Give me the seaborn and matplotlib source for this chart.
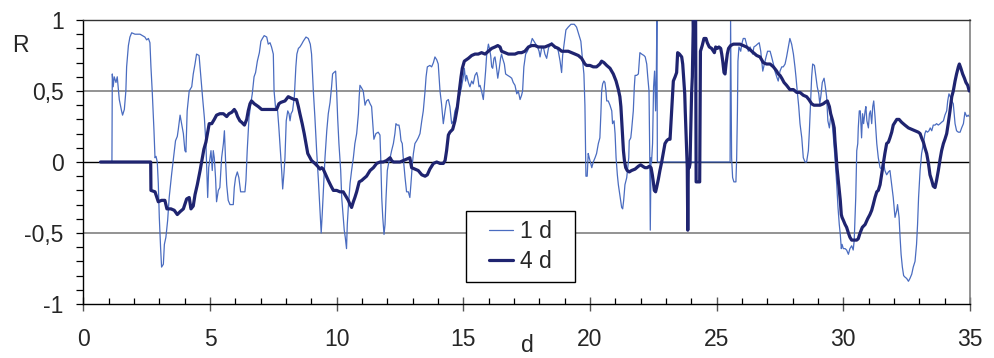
import numpy as np
import matplotlib
matplotlib.use("Agg")
import matplotlib.pyplot as plt
from matplotlib.ticker import MultipleLocator, FixedLocator, FixedFormatter
from matplotlib.legend_handler import HandlerLine2D
from matplotlib.lines import Line2D
import seaborn as sns

sns.set_style("white")
plt.rcParams["font.family"] = ["Liberation Sans", "DejaVu Sans"]

# Correlation coefficient R versus distance d, 1-day window
d1_x = [0.68, 1.13, 1.145, 1.18, 1.22, 1.29, 1.34, 1.42, 1.51, 1.55, 1.62, 1.68, 1.71, 1.78, 1.84, 1.91,
        2.04, 2.24, 2.43, 2.50, 2.57, 2.63, 2.67, 2.72, 2.79, 2.83, 2.87, 2.92, 2.96, 3.00, 3.05, 3.09,
        3.16, 3.20, 3.26, 3.33, 3.39, 3.49, 3.58, 3.64, 3.71, 3.75, 3.82, 3.88, 3.95, 4.01, 4.05, 4.10,
        4.18, 4.28, 4.34, 4.41, 4.47, 4.57, 4.63, 4.71, 4.78, 4.84, 4.91, 4.95, 5.04, 5.09, 5.13, 5.17,
        5.22, 5.26, 5.33, 5.39, 5.46, 5.53, 5.57, 5.62, 5.66, 5.72, 5.79, 5.92, 5.96, 6.01, 6.08, 6.14,
        6.21, 6.29, 6.38, 6.42, 6.47, 6.54, 6.61, 6.67, 6.74, 6.80, 6.87, 6.95, 7.01, 7.07, 7.14, 7.24,
        7.30, 7.37, 7.43, 7.50, 7.53, 7.59, 7.67, 7.72, 7.78, 7.83, 7.87, 7.92, 7.96, 8.01, 8.07, 8.12,
        8.16, 8.20, 8.26, 8.33, 8.39, 8.43, 8.49, 8.55, 8.62, 8.68, 8.79, 8.88, 8.96, 9.01, 9.08, 9.14,
        9.21, 9.28, 9.34, 9.39, 9.43, 9.49, 9.54, 9.61, 9.67, 9.74, 9.80, 9.84, 9.89, 9.96, 10.00, 10.04,
        10.09, 10.16, 10.20, 10.26, 10.30, 10.34, 10.39, 10.42, 10.46, 10.53, 10.59, 10.66, 10.72, 10.79,
        10.86, 10.89, 10.92, 10.99, 11.05, 11.12, 11.18, 11.25, 11.32, 11.38, 11.42, 11.47, 11.55, 11.64,
        11.71, 11.74, 11.78, 11.82, 11.87, 11.91, 11.95, 12.00, 12.05, 12.11, 12.17, 12.24, 12.30, 12.34,
        12.39, 12.46, 12.50, 12.54, 12.59, 12.63, 12.70, 12.76, 12.83, 12.89, 12.93, 12.99, 13.03, 13.09,
        13.16, 13.22, 13.29, 13.36, 13.42, 13.49, 13.53, 13.58, 13.68, 13.75, 13.82, 13.88, 13.95, 14.01,
        14.08, 14.14, 14.21, 14.28, 14.34, 14.41, 14.47, 14.54, 14.61, 14.67, 14.74, 14.80, 14.87, 14.93,
        15.00, 15.04, 15.09, 15.13, 15.20, 15.26, 15.33, 15.39, 15.46, 15.53, 15.57, 15.62, 15.66, 15.72,
        15.79, 15.83, 15.88, 15.92, 15.99, 16.03, 16.08, 16.12, 16.16, 16.21, 16.25, 16.30, 16.36, 16.42,
        16.47, 16.51, 16.55, 16.62, 16.67, 16.75, 16.84, 16.91, 16.97, 17.04, 17.11, 17.17, 17.24, 17.30,
        17.34, 17.39, 17.46, 17.53, 17.59, 17.66, 17.72, 17.79, 17.86, 17.93, 17.99, 18.03, 18.09, 18.16,
        18.22, 18.29, 18.36, 18.42, 18.49, 18.55, 18.62, 18.68, 18.75, 18.82, 18.88, 18.92, 18.99, 19.05,
        19.14, 19.25, 19.38, 19.47, 19.57, 19.64, 19.71, 19.76, 19.80, 19.84, 19.89, 19.93, 19.97, 20.03,
        20.07, 20.13, 20.20, 20.26, 20.33, 20.39, 20.43, 20.46, 20.50, 20.55, 20.59, 20.63, 20.66, 20.72,
        20.79, 20.86, 20.89, 20.95, 20.99, 21.03, 21.08, 21.12, 21.16, 21.21, 21.25, 21.29, 21.33, 21.38,
        21.45, 21.49, 21.53, 21.55, 21.61, 21.64, 21.71, 21.75, 21.78, 21.84, 21.91, 21.97, 22.04, 22.13,
        22.18, 22.24, 22.28, 22.33, 22.36, 22.38, 22.41, 22.43, 22.47, 22.51, 22.55, 22.59, 22.62, 22.64,
        22.66, 25.53, 25.55, 25.59, 25.63, 25.68, 25.76, 25.79, 25.82, 25.84, 25.88, 25.95, 25.99, 26.05,
        26.12, 26.18, 26.25, 26.32, 26.38, 26.42, 26.47, 26.55, 26.61, 26.68, 26.74, 26.78, 26.82, 26.87,
        26.95, 27.01, 27.11, 27.17, 27.24, 27.30, 27.37, 27.43, 27.50, 27.57, 27.63, 27.70, 27.76, 27.83,
        27.89, 27.96, 28.03, 28.09, 28.13, 28.18, 28.24, 28.29, 28.36, 28.42, 28.49, 28.55, 28.62, 28.66,
        28.71, 28.75, 28.79, 28.86, 28.92, 28.97, 29.03, 29.07, 29.11, 29.17, 29.24, 29.29, 29.34, 29.39,
        29.45, 29.50, 29.55, 29.61, 29.67, 29.74, 29.79, 29.84, 29.88, 29.92, 29.95, 30.00, 30.07, 30.13,
        30.20, 30.26, 30.33, 30.39, 30.43, 30.49, 30.53, 30.57, 30.59, 30.63, 30.67, 30.72, 30.76, 30.80,
        30.86, 30.89, 30.93, 30.99, 31.03, 31.07, 31.12, 31.16, 31.20, 31.25, 31.32, 31.38, 31.45, 31.51,
        31.58, 31.64, 31.71, 31.78, 31.84, 31.91, 31.97, 32.04, 32.11, 32.14, 32.20, 32.24, 32.28, 32.33,
        32.38, 32.43, 32.50, 32.57, 32.63, 32.70, 32.76, 32.83, 32.89, 32.93, 32.97, 33.03, 33.09, 33.16,
        33.22, 33.26, 33.32, 33.38, 33.43, 33.49, 33.55, 33.62, 33.68, 33.75, 33.82, 33.88, 33.95, 34.01,
        34.08, 34.12, 34.17, 34.22, 34.28, 34.34, 34.41, 34.47, 34.54, 34.61, 34.67, 34.74, 34.80, 34.87,
        34.93, 34.97]
d1_r = [0.00, 0.00, 0.62, 0.53, 0.60, 0.56, 0.60, 0.44, 0.36, 0.33, 0.37, 0.50, 0.67, 0.82, 0.88, 0.91,
        0.90, 0.90, 0.88, 0.86, 0.87, 0.84, 0.67, 0.50, 0.22, 0.03, 0.04, 0.00, -0.15, -0.39, -0.60, -0.74,
        -0.72, -0.58, -0.53, -0.41, -0.25, -0.08, 0.06, 0.15, 0.18, 0.23, 0.33, 0.27, 0.20, 0.08, 0.07, 0.36,
        0.50, 0.53, 0.62, 0.69, 0.76, 0.75, 0.62, 0.45, 0.31, 0.13, -0.25, -0.04, 0.08, -0.06, 0.08, 0.03,
        -0.11, -0.28, -0.20, -0.18, 0.03, 0.13, 0.22, -0.01, -0.16, -0.27, -0.30, -0.30, -0.18, -0.11, -0.07, -0.11,
        -0.21, -0.21, -0.21, -0.13, 0.08, 0.31, 0.41, 0.48, 0.60, 0.63, 0.71, 0.77, 0.85, 0.87, 0.89, 0.88,
        0.83, 0.84, 0.81, 0.76, 0.50, 0.38, 0.36, 0.24, 0.08, -0.06, -0.19, -0.08, 0.03, 0.29, 0.36, 0.34,
        0.29, 0.34, 0.36, 0.46, 0.67, 0.76, 0.80, 0.81, 0.83, 0.85, 0.88, 0.87, 0.83, 0.76, 0.50, 0.32,
        0.08, -0.13, -0.34, -0.50, -0.37, -0.15, 0.03, 0.22, 0.34, 0.42, 0.53, 0.62, 0.63, 0.64, 0.50, 0.31,
        0.13, -0.06, -0.25, -0.39, -0.48, -0.53, -0.61, -0.44, -0.32, -0.15, -0.06, 0.03, 0.13, 0.20,
        0.34, 0.46, 0.54, 0.52, 0.50, 0.40, 0.43, 0.44, 0.41, 0.39, 0.29, 0.16, 0.20, 0.21,
        0.19, 0.03, -0.25, -0.39, -0.51, -0.44, -0.25, -0.06, -0.01, 0.03, 0.08, 0.13, 0.20, 0.27,
        0.26, 0.26, 0.22, 0.15, 0.13, 0.03, -0.11, -0.21, -0.21, -0.25, -0.16, -0.01, 0.06, 0.13,
        0.15, 0.17, 0.20, 0.29, 0.36, 0.50, 0.60, 0.67, 0.68, 0.67, 0.70, 0.74, 0.72, 0.69,
        0.50, 0.41, 0.27, 0.36, 0.43, 0.44, 0.39, 0.27, 0.29, 0.36, 0.39, 0.43, 0.48, 0.53,
        0.60, 0.66, 0.57, 0.61, 0.56, 0.53, 0.57, 0.55, 0.61, 0.63, 0.60, 0.53, 0.54, 0.50,
        0.44, 0.53, 0.64, 0.75, 0.83, 0.80, 0.75, 0.67, 0.66, 0.73, 0.74, 0.68, 0.59, 0.66,
        0.73, 0.76, 0.73, 0.69, 0.62, 0.61, 0.60, 0.59, 0.56, 0.54, 0.48, 0.50, 0.44, 0.47,
        0.50, 0.67, 0.76, 0.78, 0.81, 0.83, 0.87, 0.85, 0.83, 0.81, 0.78, 0.74, 0.80, 0.81,
        0.76, 0.73, 0.80, 0.83, 0.84, 0.82, 0.80, 0.81, 0.78, 0.71, 0.63, 0.75, 0.85, 0.93,
        0.95, 0.97, 0.97, 0.95, 0.89, 0.85, 0.71, 0.62, 0.40, -0.10, -0.10, 0.06, 0.03, -0.01,
        -0.04, 0.00, 0.03, 0.06, 0.13, 0.17, 0.34, 0.50, 0.55, 0.57, 0.56, 0.50, 0.43, 0.43,
        0.40, 0.36, 0.27, 0.29, 0.20, 0.03, -0.09, -0.16, -0.21, -0.27, -0.32, -0.33, -0.27, -0.16,
        -0.11, -0.04, 0.03, 0.15, 0.17, 0.22, 0.36, 0.53, 0.61, 0.61, 0.62, 0.77, 0.76, 0.75,
        0.74, 0.69, 0.60, 0.50, 0.03, -0.48, 0.03, 0.00, 0.13, 0.53, 0.64, 0.36, 0.64, 1.00,
        0.00, 0.00, 1.00, 0.03, -0.11, -0.14, -0.14, 0.03, 0.36, 0.71, 0.81, 0.78, 0.83, 0.87,
        0.87, 0.83, 0.78, 0.81, 0.78, 0.76, 0.81, 0.82, 0.83, 0.84, 0.78, 0.71, 0.64, 0.68,
        0.74, 0.78, 0.78, 0.74, 0.69, 0.64, 0.60, 0.57, 0.64, 0.67, 0.67, 0.69, 0.74, 0.81,
        0.87, 0.83, 0.76, 0.67, 0.60, 0.50, 0.39, 0.27, 0.17, 0.03, 0.00, 0.00, 0.08, 0.22,
        0.43, 0.60, 0.69, 0.68, 0.60, 0.53, 0.48, 0.41, 0.46, 0.56, 0.59, 0.53, 0.46, 0.29,
        0.24, 0.32, 0.29, 0.17, 0.03, -0.16, -0.32, -0.44, -0.51, -0.61, -0.58, -0.61, -0.61, -0.62,
        -0.65, -0.61, -0.59, -0.62, -0.55, -0.25, 0.08, 0.13, 0.24, 0.36, 0.36, 0.17, 0.34, 0.27,
        0.36, 0.39, 0.29, 0.24, 0.34, 0.36, 0.27, 0.39, 0.43, 0.32, 0.13, 0.03, -0.04, -0.05,
        0.01, -0.06, -0.09, -0.07, -0.06, -0.16, -0.25, -0.39, -0.34, -0.30, -0.39, -0.53, -0.65, -0.74,
        -0.80, -0.81, -0.82, -0.84, -0.82, -0.79, -0.74, -0.70, -0.58, -0.44, -0.25, -0.06, 0.06, 0.13,
        0.20, 0.22, 0.21, 0.22, 0.24, 0.22, 0.26, 0.26, 0.27, 0.26, 0.27, 0.28, 0.29, 0.33,
        0.36, 0.43, 0.48, 0.46, 0.43, 0.41, 0.27, 0.22, 0.21, 0.21, 0.24, 0.27, 0.35, 0.32,
        0.33, 0.32]

# Same quantity, 4-day window
d4_x = [0.68, 2.66, 2.67, 2.83, 2.96, 3.09, 3.22, 3.30, 3.46, 3.59, 3.71, 3.82, 3.95, 4.08, 4.18, 4.25,
        4.34, 4.41, 4.50, 4.61, 4.67, 4.76, 4.84, 4.91, 4.97, 5.07, 5.17, 5.26, 5.39, 5.53, 5.66, 5.75,
        5.86, 5.96, 6.03, 6.09, 6.18, 6.25, 6.36, 6.45, 6.51, 6.58, 6.64, 6.75, 6.91, 7.04, 7.24, 7.43,
        7.63, 7.72, 7.80, 7.96, 8.09, 8.20, 8.33, 8.42, 8.49, 8.55, 8.64, 8.72, 8.79, 8.86, 8.95, 9.01,
        9.14, 9.25, 9.34, 9.41, 9.47, 9.57, 9.67, 9.78, 9.87, 10.00, 10.13, 10.26, 10.39, 10.46, 10.53,
        10.59, 10.66, 10.72, 10.79, 10.89, 10.99, 11.05, 11.18, 11.32, 11.45, 11.58, 11.71, 11.84, 11.97,
        12.11, 12.17, 12.24, 12.37, 12.50, 12.63, 12.76, 12.89, 12.96, 13.09, 13.22, 13.36, 13.49, 13.58,
        13.68, 13.82, 13.95, 14.08, 14.21, 14.28, 14.34, 14.41, 14.47, 14.58, 14.67, 14.76, 14.84, 14.91,
        14.96, 15.04, 15.20, 15.33, 15.46, 15.59, 15.72, 15.86, 15.99, 16.12, 16.25, 16.36, 16.45, 16.51,
        16.64, 16.78, 16.91, 17.04, 17.17, 17.30, 17.43, 17.57, 17.70, 17.83, 17.96, 18.09, 18.22, 18.36,
        18.49, 18.62, 18.75, 18.88, 19.01, 19.14, 19.28, 19.41, 19.54, 19.67, 19.80, 19.87, 20.00, 20.13,
        20.26, 20.39, 20.46, 20.55, 20.66, 20.79, 20.92, 21.03, 21.12, 21.18, 21.22, 21.26, 21.29, 21.32,
        21.36, 21.41, 21.47, 21.55, 21.64, 21.78, 21.91, 22.00, 22.08, 22.17, 22.26, 22.34, 22.41, 22.46,
        22.50, 22.54, 22.59, 22.63, 22.70, 22.76, 22.83, 22.89, 22.96, 23.03, 23.09, 23.16, 23.20, 23.24,
        23.26, 23.29, 23.36, 23.42, 23.46, 23.53, 23.62, 23.66, 23.70, 23.74, 23.76, 23.80, 23.84, 23.86,
        23.88, 23.92, 23.95, 23.97, 24.01, 24.04, 24.08, 24.12, 24.14, 24.17, 24.19, 24.33, 24.36, 24.43,
        24.50, 24.58, 24.63, 24.71, 24.80, 24.87, 24.91, 24.96, 25.03, 25.09, 25.16, 25.20, 25.24, 25.29,
        25.33, 25.37, 25.42, 25.47, 25.55, 25.66, 25.79, 25.92, 26.05, 26.18, 26.32, 26.45, 26.58, 26.71,
        26.84, 26.97, 27.11, 27.24, 27.37, 27.43, 27.50, 27.57, 27.66, 27.76, 27.89, 28.03, 28.16, 28.29,
        28.42, 28.55, 28.64, 28.75, 28.84, 28.95, 29.08, 29.21, 29.28, 29.37, 29.45, 29.50, 29.58, 29.64,
        29.67, 29.71, 29.75, 29.80, 29.84, 29.88, 29.92, 29.95, 30.00, 30.07, 30.13, 30.20, 30.26, 30.33,
        30.39, 30.53, 30.59, 30.66, 30.75, 30.86, 30.96, 31.05, 31.12, 31.18, 31.25, 31.32, 31.38, 31.45,
        31.51, 31.58, 31.64, 31.71, 31.78, 31.84, 31.91, 31.97, 32.04, 32.11, 32.20, 32.30, 32.43, 32.57,
        32.70, 32.83, 32.96, 33.03, 33.09, 33.16, 33.22, 33.29, 33.36, 33.42, 33.49, 33.55, 33.62, 33.68,
        33.75, 33.82, 33.88, 33.95, 34.01, 34.08, 34.14, 34.21, 34.28, 34.34, 34.41, 34.47, 34.54, 34.58,
        34.64, 34.71, 34.78, 34.84, 34.91, 34.97]
d4_r = [0.00, 0.00, -0.20, -0.21, -0.28, -0.27, -0.27, -0.33, -0.33, -0.34, -0.37, -0.35, -0.33, -0.26, -0.25, -0.33,
        -0.31, -0.23, -0.16, -0.06, 0.00, 0.09, 0.14, 0.21, 0.27, 0.27, 0.30, 0.33, 0.34, 0.34, 0.32, 0.34,
        0.35, 0.37, 0.35, 0.32, 0.29, 0.28, 0.26, 0.30, 0.36, 0.41, 0.43, 0.41, 0.39, 0.37, 0.37, 0.37,
        0.37, 0.41, 0.42, 0.43, 0.46, 0.45, 0.44, 0.44, 0.39, 0.34, 0.27, 0.20, 0.13, 0.06, 0.03, 0.01,
        -0.01, -0.03, -0.05, -0.04, -0.05, -0.09, -0.13, -0.17, -0.20, -0.20, -0.21, -0.21, -0.25, -0.27, -0.30,
        -0.32, -0.28, -0.25, -0.21, -0.14, -0.13, -0.12, -0.10, -0.06, -0.04, -0.01, 0.00, 0.00, 0.01,
        0.03, 0.01, 0.00, 0.00, 0.00, 0.01, 0.02, 0.03, -0.04, -0.05, -0.06, -0.09, -0.10, -0.09,
        -0.05, -0.01, 0.00, -0.01, -0.01, 0.01, 0.08, 0.19, 0.21, 0.23, 0.29, 0.38, 0.50, 0.60,
        0.66, 0.71, 0.73, 0.75, 0.76, 0.76, 0.77, 0.76, 0.78, 0.80, 0.81, 0.82, 0.81, 0.78,
        0.77, 0.76, 0.76, 0.76, 0.77, 0.77, 0.78, 0.81, 0.82, 0.82, 0.81, 0.81, 0.81, 0.82,
        0.83, 0.81, 0.80, 0.78, 0.78, 0.78, 0.77, 0.76, 0.75, 0.73, 0.69, 0.68, 0.68, 0.67,
        0.67, 0.69, 0.71, 0.70, 0.68, 0.66, 0.62, 0.57, 0.51, 0.46, 0.39, 0.27, 0.17, 0.08,
        0.01, -0.04, -0.06, -0.07, -0.06, -0.05, -0.03, -0.02, -0.03, -0.04, -0.04, -0.03, -0.04, -0.09,
        -0.14, -0.20, -0.21, -0.18, -0.12, -0.06, 0.00, 0.06, 0.13, 0.15, 0.16, 0.16, 0.29, 0.41,
        0.48, 0.57, 0.60, 0.63, 0.77, 0.76, 0.74, 0.69, 0.59, 0.48, 0.36, 0.17, -0.04, -0.48,
        -0.04, -0.04, -0.01, 0.17, 0.48, 0.60, 1.00, 0.75, 1.00, 1.00, -0.14, -0.14, 0.78, 0.82,
        0.87, 0.87, 0.84, 0.81, 0.80, 0.78, 0.77, 0.81, 0.80, 0.81, 0.80, 0.76, 0.71, 0.63,
        0.62, 0.69, 0.76, 0.80, 0.82, 0.83, 0.83, 0.83, 0.82, 0.81, 0.79, 0.77, 0.75, 0.74,
        0.70, 0.69, 0.69, 0.67, 0.64, 0.62, 0.61, 0.59, 0.56, 0.54, 0.51, 0.51, 0.49, 0.49,
        0.47, 0.46, 0.44, 0.41, 0.40, 0.40, 0.40, 0.41, 0.42, 0.43, 0.39, 0.34, 0.29, 0.24,
        0.15, 0.06, -0.04, -0.13, -0.20, -0.27, -0.37, -0.39, -0.41, -0.44, -0.46, -0.50, -0.53, -0.55,
        -0.55, -0.55, -0.54, -0.50, -0.46, -0.44, -0.40, -0.37, -0.34, -0.30, -0.25, -0.21, -0.20, -0.16,
        -0.09, -0.01, 0.06, 0.13, 0.14, 0.17, 0.21, 0.26, 0.28, 0.30, 0.30, 0.28, 0.26, 0.24,
        0.23, 0.22, 0.21, 0.20, 0.17, 0.14, 0.10, 0.06, -0.01, -0.09, -0.13, -0.17, -0.18, -0.13,
        -0.06, 0.02, 0.08, 0.13, 0.16, 0.20, 0.27, 0.36, 0.46, 0.50, 0.57, 0.62, 0.67, 0.69,
        0.66, 0.62, 0.59, 0.56, 0.54, 0.50]

series_names = ["1 d", "4 d"]
x_ticks = [0, 5, 10, 15, 20, 25, 30, 35]
y_ticks = [-1, -0.5, 0, 0.5, 1]
y_tick_labels = ["-1", "-0,5", "0", "0,5", "1"]
grid_levels = [0.5, -0.5]


class InsetLineHandler(HandlerLine2D):
    """Legend line sample that starts a little to the right of its handle box."""

    def __init__(self, lead, **kw):
        super().__init__(**kw)
        self.lead = lead

    def get_xdata(self, legend, xdescent, ydescent, width, height, fontsize):
        xdata = np.array([-xdescent + self.lead, -xdescent + width])
        return xdata, np.array([-xdescent + 0.5 * width])


FS = 16.5
W, H = 995, 358
fig = plt.figure(figsize=(W / 100, H / 100), dpi=100)
ax = fig.add_axes([83.3 / W, 54 / H, 886.7 / W, 284 / H])

for lvl in grid_levels:
    ax.axhline(lvl, color="#808080", lw=1.2, zorder=1)
ax.axhline(0, color="black", lw=1.0, zorder=1)

sns.lineplot(x=d1_x, y=d1_r, ax=ax, estimator=None, sort=False,
             color="#4a6cc0", lw=0.9, label=series_names[0], zorder=2)
sns.lineplot(x=d4_x, y=d4_r, ax=ax, estimator=None, sort=False,
             color="#1f2470", lw=2.3, label=series_names[1], zorder=3)

ax.set_xlim(0, 35)
ax.set_ylim(-1, 1)
ax.xaxis.set_major_locator(FixedLocator(x_ticks))
ax.xaxis.set_minor_locator(MultipleLocator(1))
ax.yaxis.set_major_locator(FixedLocator(y_ticks))
ax.yaxis.set_major_formatter(FixedFormatter(y_tick_labels))
ax.yaxis.set_minor_locator(MultipleLocator(0.1))
ax.tick_params(axis="x", which="major", direction="inout", length=10, width=1,
               color="#555555", labelsize=FS, pad=12)
ax.tick_params(axis="x", which="minor", direction="in", length=4.3, width=0.9, color="black")
ax.tick_params(axis="y", which="both", direction="out", length=5, width=0.9,
               color="black", labelsize=FS, pad=9)
ax.tick_params(bottom=True, left=True, top=False, right=False)
ax.tick_params(which="minor", bottom=True, left=True, top=False, right=False)
ax.set_xlabel("")
ax.set_ylabel("")

for side, col, lw in [("left", "black", 1.0), ("bottom", "black", 1.0),
                      ("top", "#333333", 1.0), ("right", "#808080", 1.2)]:
    ax.spines[side].set_visible(True)
    ax.spines[side].set_color(col)
    ax.spines[side].set_linewidth(lw)

handles, labels = ax.get_legend_handles_labels()
leg = ax.legend(handles, labels, loc="upper left",
                bbox_to_anchor=(0.4315, 0.0, 0.1233, 0.3285), mode="expand",
                borderaxespad=0, frameon=True, fancybox=False, edgecolor="black",
                framealpha=1, fontsize=FS, handlelength=1.66, handletextpad=0.28,
                labelspacing=0.3, borderpad=0.4,
                handler_map={Line2D: InsetLineHandler(lead=10)})
leg.get_frame().set_linewidth(1.0)
leg.set_zorder(5)

fig.text(12 / W, 1 - 52 / H, "R", ha="left", va="baseline", fontsize=FS)
fig.text(527 / W, 1 / H, "d", ha="center", va="bottom", fontsize=FS)

fig.savefig("out.png", dpi=100)
